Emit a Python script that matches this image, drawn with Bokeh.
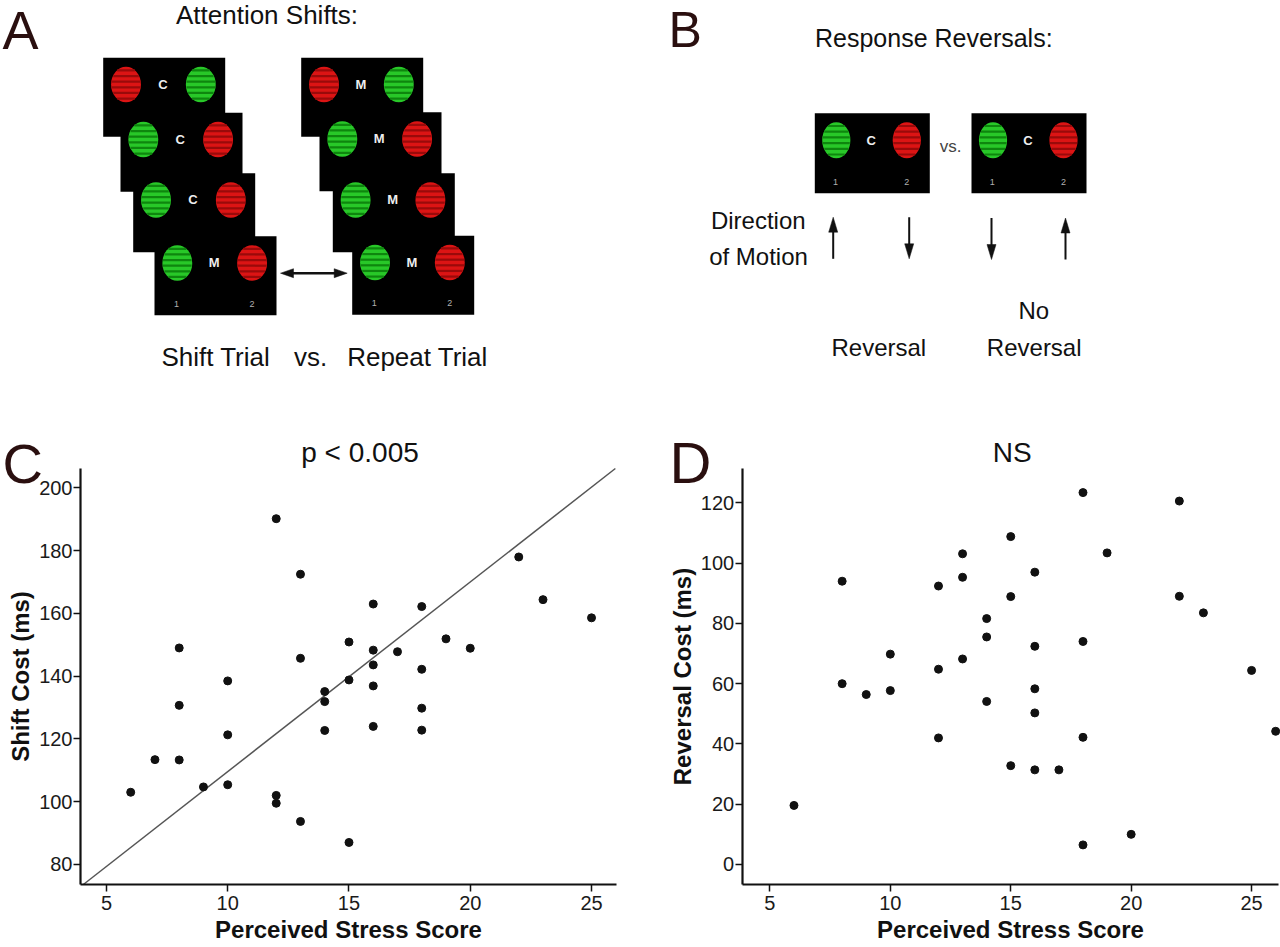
import math
from bokeh.plotting import figure
from bokeh.layouts import column, row
from bokeh.models import Range1d, FixedTicker, Label
from bokeh.core.properties import value
from bokeh.embed import file_html
from bokeh.resources import INLINE

FONT = "Liberation Sans"
LETTER_COL = "#2a0f0f"

# ---------------- data: panel C (shift cost) ----------------
stress_c = [6, 7, 8, 8, 8, 9, 10, 10, 10, 12, 12, 12, 13, 13, 13, 14, 14, 14,
            15, 15, 15, 16, 16, 16, 16, 16, 17, 18, 18, 18, 18, 19, 20, 22, 23, 25]
shift_cost = [103.0, 113.4, 149.0, 130.7, 113.3, 104.7, 138.5, 121.3, 105.4,
              190.2, 102.0, 99.5, 172.5, 145.7, 93.7, 135.1, 131.9, 122.7,
              150.9, 138.8, 87.0, 163.0, 148.3, 143.6, 136.9, 124.0, 147.8,
              162.2, 142.2, 129.8, 122.8, 151.9, 148.9, 178.0, 164.4, 158.6]
fit_slope = 6.045
fit_intercept = 49.13

# ---------------- data: panel D (reversal cost) ----------------
stress_d = [6, 8, 8, 9, 10, 10, 12, 12, 12, 13, 13, 13, 14, 14, 14, 15, 15, 15,
            16, 16, 16, 16, 16, 17, 18, 18, 18, 18, 19, 20, 22, 22, 23, 25, 26]
reversal_cost = [19.6, 94.0, 60.0, 56.4, 69.8, 57.7, 92.4, 64.8, 42.0,
                 103.1, 95.3, 68.2, 81.6, 75.5, 54.1, 108.8, 88.9, 32.8,
                 97.0, 72.4, 58.3, 50.3, 31.4, 31.4, 123.4, 74.0, 42.2, 6.5,
                 103.4, 10.0, 120.6, 89.0, 83.5, 64.4, 44.2]

x_ticks = [5, 10, 15, 20, 25]
y_ticks_c = [80, 100, 120, 140, 160, 180, 200]
y_ticks_d = [0, 20, 40, 60, 80, 100, 120]

# axis extents (data units)
c_xbounds, c_ybounds = (3.93, 26.03), (73.6, 206.2)
d_xbounds, d_ybounds = (3.85, 26.13), (-6.64, 131.4)

shift_letters = ["C", "C", "C", "M"]
repeat_letters = ["M", "M", "M", "M"]

RED, RED_D = "#dc1414", "#9a0a0a"
GREEN, GREEN_D = "#28c828", "#0e860e"

# ---------------- top diagram figure (page pixel coordinates) ----------------
top = figure(width=1280, height=420, x_range=Range1d(0, 1280), y_range=Range1d(420, 0),
             output_backend="svg", toolbar_location=None, x_axis_type=None,
             y_axis_type=None, min_border=0)
top.outline_line_color = None
top.grid.visible = False


def txt(p, x, y, s, size, color="#111111", align="center", style="normal"):
    p.text(x=[x], y=[y], text=[s], text_font=value(FONT), text_font_size=value(size),
           text_color=color, text_align=align, text_baseline="middle",
           text_font_style=style)


def striped(p, cx, cy, w, h, fill, stripe):
    p.ellipse(x=[cx], y=[cy], width=w, height=h, fill_color=fill, line_color=None)
    n = 6
    x0s, x1s, ys = [], [], []
    for k in range(n):
        t = ((k + 0.5) / n - 0.5) * 0.95
        yy = cy + h * t
        half = w / 2 * math.sqrt(max(0.0, 1 - (2 * t) ** 2)) * 0.97
        x0s.append(cx - half)
        x1s.append(cx + half)
        ys.append(yy)
    p.segment(x0=x0s, y0=ys, x1=x1s, y1=ys, line_color=stripe, line_width=2.2)


def screen(p, left, top_, w, h, left_pair, right_pair, letter, numbers):
    p.quad(left=[left], right=[left + w], top=[top_], bottom=[top_ + h],
           fill_color="black", line_color=None)
    cy = top_ + 0.338 * h
    cw, ch = 0.245 * w, 0.45 * h
    striped(p, left + 0.187 * w, cy, cw, ch, *left_pair)
    striped(p, left + 0.80 * w, cy, cw, ch, *right_pair)
    p.text(x=[left + 0.49 * w], y=[cy], text=[letter], text_font=value(FONT),
           text_font_size=value("13px"), text_font_style="bold", text_color="#eeeeee",
           text_align="center", text_baseline="middle")
    if numbers:
        p.text(x=[left + 0.18 * w, left + 0.80 * w], y=[top_ + 0.855 * h] * 2,
               text=["1", "2"], text_font=value(FONT), text_font_size=value("9px"),
               text_color="#b0b0b0", text_align="center", text_baseline="middle")


def arrow(p, x0, y0, x1, y1, head_len, head_w, lw, both=False):
    dx, dy = x1 - x0, y1 - y0
    L = math.hypot(dx, dy)
    ux, uy = dx / L, dy / L
    px_, py_ = -uy, ux
    sx0 = x0 + ux * head_len * 0.8 if both else x0
    sy0 = y0 + uy * head_len * 0.8 if both else y0
    p.segment(x0=[sx0], y0=[sy0], x1=[x1 - ux * head_len * 0.8], y1=[y1 - uy * head_len * 0.8],
              line_color="#111111", line_width=lw)
    xs, ys = [], []
    ends = [(x1, y1, ux, uy)]
    if both:
        ends.append((x0, y0, -ux, -uy))
    for tx, ty, vx, vy in ends:
        bx, by = tx - vx * head_len, ty - vy * head_len
        xs.append([tx, bx + px_ * head_w / 2, bx - px_ * head_w / 2])
        ys.append([ty, by + py_ * head_w / 2, by - py_ * head_w / 2])
    p.patches(xs=xs, ys=ys, fill_color="#111111", line_color="#111111", line_width=0.5)


R = (RED, RED_D)
G = (GREEN, GREEN_D)

# Panel A
txt(top, 2, 29, "A", "54px", color=LETTER_COL, align="left")
txt(top, 266.5, 14.5, "Attention Shifts:", "26px")
left_stack = [(102.7, 57.3), (120.0, 112.3), (132.7, 172.7), (154.0, 235.7)]
right_stack = [(300.7, 57.3), (319.0, 111.7), (332.3, 172.7), (351.7, 235.3)]
for i, (lx, ty) in enumerate(left_stack):
    pair = (R, G) if i == 0 else (G, R)
    screen(top, lx, ty, 122, 79, pair[0], pair[1], shift_letters[i], i == 3)
for i, (lx, ty) in enumerate(right_stack):
    pair = (R, G) if i == 0 else (G, R)
    screen(top, lx, ty, 122, 79, pair[0], pair[1], repeat_letters[i], i == 3)
arrow(top, 280, 272.7, 346.7, 272.7, 13, 9, 2.5, both=True)
txt(top, 215.3, 356, "Shift Trial", "26px")
txt(top, 310, 356, "vs.", "26px")
txt(top, 417, 356, "Repeat Trial", "26px")

# Panel B
txt(top, 668, 29.5, "B", "50px", color=LETTER_COL, align="left")
txt(top, 933.3, 37.5, "Response Reversals:", "25px")
screen(top, 814.3, 112.7, 115, 80, G, R, "C", True)
screen(top, 971.0, 112.7, 115, 80, G, R, "C", True)
txt(top, 950, 145.6, "vs.", "17px", color="#444444")
txt(top, 757.8, 220, "Direction", "24px")
txt(top, 758, 256.3, "of Motion", "24px")
arrow(top, 832.7, 258.3, 832.7, 216.7, 15, 9, 2)
arrow(top, 908.7, 216.7, 908.7, 258.3, 15, 9, 2)
arrow(top, 991.0, 217.5, 991.0, 259.0, 15, 9, 2)
arrow(top, 1065.0, 259.0, 1065.0, 217.5, 15, 9, 2)
txt(top, 878.3, 346.7, "Reversal", "24px")
txt(top, 1033.3, 310, "No", "24px")
txt(top, 1033.7, 346.7, "Reversal", "24px")


# ---------------- scatter panels ----------------
# Each figure's frame fills the whole canvas; axes are pinned with fixed_location
# so that panel letters and titles can sit outside the axis box.
FIG_W, FIG_H = 640, 527
FIG_TOP = 420              # page y of figure top
AX_TOP, AX_BOT = 468, 884  # page y of axis box


def make_ranges(xb, yb, fig_left, ax_left, ax_right):
    ppx = (ax_right - ax_left) / (xb[1] - xb[0])
    ppy = (AX_BOT - AX_TOP) / (yb[1] - yb[0])
    x0 = xb[0] - (ax_left - fig_left) / ppx
    x1 = xb[1] + (fig_left + FIG_W - ax_right) / ppx
    y1 = yb[1] + (AX_TOP - FIG_TOP) / ppy
    y0 = yb[0] - (FIG_TOP + FIG_H - AX_BOT) / ppy

    def conv(X, Y):
        return xb[0] + (X - ax_left) / ppx, yb[1] - (Y - AX_TOP) / ppy
    return (x0, x1), (y0, y1), conv


def scatter_fig(xr, yr, xb, yb, yticks, ylabel):
    p = figure(width=FIG_W, height=FIG_H, x_range=Range1d(*xr), y_range=Range1d(*yr),
               output_backend="svg", toolbar_location=None, min_border=0)
    p.grid.visible = False
    p.outline_line_color = None
    p.xaxis.fixed_location = yb[0]
    p.yaxis.fixed_location = xb[0]
    p.xaxis.bounds = xb
    p.yaxis.bounds = yb
    p.xaxis.ticker = FixedTicker(ticks=x_ticks)
    p.yaxis.ticker = FixedTicker(ticks=yticks)
    p.axis.minor_tick_line_color = None
    p.axis.major_tick_in = 0
    p.axis.major_tick_out = 7
    p.axis.axis_line_width = 2.2
    p.axis.axis_line_color = "#111111"
    p.axis.major_tick_line_width = 1.5
    p.axis.major_tick_line_color = "#111111"
    p.axis.major_label_text_font = FONT
    p.axis.major_label_text_font_size = "20px"
    p.axis.major_label_text_color = "#1a1a1a"
    p.xaxis.major_label_standoff = 4
    p.yaxis.major_label_standoff = 1
    p.axis.axis_label_text_font = FONT
    p.axis.axis_label_text_font_size = "24px"
    p.axis.axis_label_text_font_style = "bold"
    p.axis.axis_label_text_color = "#111111"
    p.xaxis.axis_label_standoff = 3
    p.yaxis.axis_label_standoff = 2
    p.xaxis.axis_label = "Perceived Stress Score"
    p.yaxis.axis_label = ylabel
    return p


def add_label(p, xy, s, size, color="#111111", align="left"):
    p.add_layout(Label(x=xy[0], y=xy[1], x_units="data", y_units="data", text=s,
                       text_font=FONT, text_font_size=size, text_color=color,
                       text_align=align, text_baseline="middle"))


# Panel C: figure page x 0..640, axis box x 80..616
cxr, cyr, cconv = make_ranges(c_xbounds, c_ybounds, 0, 80, 616)
pc = scatter_fig(cxr, cyr, c_xbounds, c_ybounds, y_ticks_c, "Shift Cost (ms)")
# fitted line, clipped to the axis box
fx0 = max(c_xbounds[0], (c_ybounds[0] - fit_intercept) / fit_slope)
fx1 = min(c_xbounds[1], (c_ybounds[1] - fit_intercept) / fit_slope)
fit_x = [fx0, fx1]
fit_y = [fit_slope * v + fit_intercept for v in fit_x]
pc.line(fit_x, fit_y, line_color="#555555", line_width=1.5)
pc.scatter(stress_c, shift_cost, size=8, fill_color="#111111", line_color="#111111")
add_label(pc, cconv(2, 462.5), "C", "56px", color=LETTER_COL)
add_label(pc, cconv(359.5, 451.7), "p < 0.005", "28px", align="center")

# Panel D: figure page x 640..1280, axis box x 741.7..1278.3
dxr, dyr, dconv = make_ranges(d_xbounds, d_ybounds, 640, 741.7, 1278.3)
pd = scatter_fig(dxr, dyr, d_xbounds, d_ybounds, y_ticks_d, "Reversal Cost (ms)")
pd.scatter(stress_d, reversal_cost, size=8, fill_color="#111111", line_color="#111111")
add_label(pd, dconv(669, 461.5), "D", "58px", color=LETTER_COL)
add_label(pd, dconv(1011.7, 452), "NS", "28px", align="center")

layout = column(top, row(pc, pd))
open("out.html", "w").write(file_html(layout, INLINE))
